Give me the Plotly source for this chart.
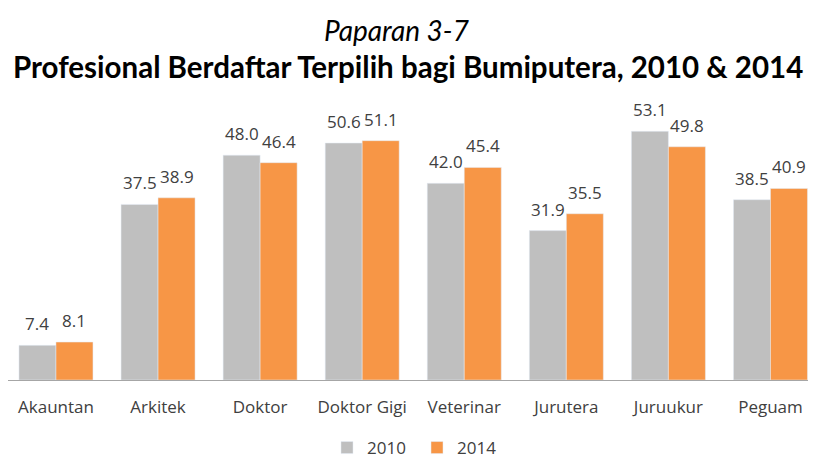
import plotly.graph_objects as go

categories = ["Akauntan", "Arkitek", "Doktor", "Doktor Gigi", "Veterinar", "Jurutera", "Juruukur", "Peguam"]
values_2010 = [7.4, 37.5, 48.0, 50.6, 42.0, 31.9, 53.1, 38.5]
values_2014 = [8.1, 38.9, 46.4, 51.1, 45.4, 35.5, 49.8, 40.9]

font_family = "Open Sans, sans-serif"
text_color = "#404040"

fig = go.Figure()
fig.add_trace(go.Bar(name="2010", x=categories, y=values_2010, marker=dict(color="#BFBFBF")))
fig.add_trace(go.Bar(name="2014", x=categories, y=values_2014, marker=dict(color="#F79646")))

# page body has an 8px margin, so the figure is drawn 8px right and down
W, H = 808, 450
L, R, T, B = 0, 0, 91, 78
plot_w = W - L - R
plot_h = H - T - B

def ypaper(pix):
    return (H - B - pix) / plot_h

def xpaper(pix):
    return (pix - L) / plot_w

annotations = []
for series, shift in ((values_2010, -18.5), (values_2014, 18.5)):
    for cat, v in zip(categories, series):
        annotations.append(dict(
            x=cat, y=v, xref="x", yref="y", text=f"{v:.1f}", showarrow=False,
            xshift=shift, yanchor="bottom", yshift=8,
            font=dict(size=17, color=text_color, family=font_family),
        ))

annotations += [
    dict(text="<i>Paparan 3-7</i>", x=xpaper(388), xref="paper", y=ypaper(22), yref="paper",
         xanchor="center", yanchor="middle", showarrow=False,
         font=dict(size=28, color="black", family="Lato, sans-serif")),
    dict(text="<b>Profesional Berdaftar Terpilih bagi Bumiputera, 2010 &amp; 2014</b>",
         x=xpaper(400), xref="paper", y=ypaper(58), yref="paper",
         xanchor="center", yanchor="middle", showarrow=False,
         font=dict(size=29.5, color="black", family="Lato, sans-serif")),
]

fig.update_layout(
    width=W, height=H,
    barmode="group", bargap=0.275, bargroupgap=0,
    plot_bgcolor="white", paper_bgcolor="white",
    margin=dict(l=L, r=R, t=T, b=B, autoexpand=False),
    font=dict(family=font_family, color=text_color, size=16),
    showlegend=True,
    legend=dict(orientation="h", x=xpaper(409), xanchor="center", y=ypaper(440), yanchor="middle",
                font=dict(size=17, color=text_color), traceorder="normal",
                entrywidth=45, entrywidthmode="pixels"),
    annotations=annotations,
)

fig.update_xaxes(range=[-0.470, 7.446], showline=True, linecolor="#A6A6A6", linewidth=1, ticks="",
                 ticklabelstandoff=12, tickfont=dict(size=17, color=text_color))
fig.update_yaxes(range=[0, 60], visible=False, showgrid=False)

fig.write_html("out.html")
